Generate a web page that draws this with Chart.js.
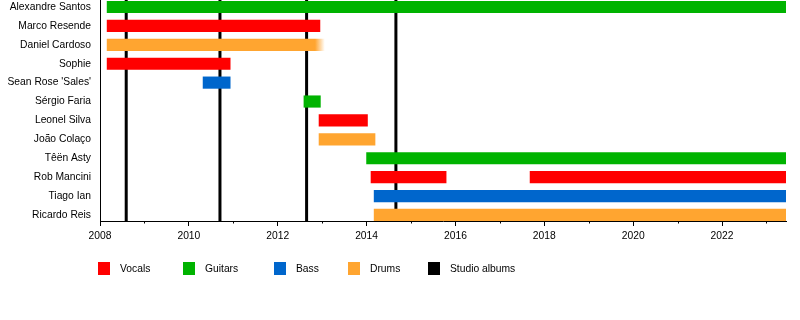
<!DOCTYPE html>
<html><head><meta charset="utf-8">
<script src="https://cdn.jsdelivr.net/npm/chart.js@4/dist/chart.umd.min.js"></script>
<style>
html,body{margin:0;padding:0;background:#fff;}
#wrap{position:relative;width:800px;height:320px;}
#c{position:absolute;left:0;top:0;}
#legend{position:absolute;left:0;top:262px;width:800px;height:14px;font:10.3px "Liberation Sans",Arial,sans-serif;color:#000}
.sw{position:absolute;top:0;width:12px;height:13px;}
.lb{position:absolute;top:0;line-height:13px;white-space:nowrap;}
</style></head><body>
<div id="wrap"><canvas id="c" width="800" height="320"></canvas><div id="legend"></div></div>
<script>
// ---- data ----
const members = ['Alexandre Santos','Marco Resende','Daniel Cardoso','Sophie',"Sean Rose 'Sales'",'Sérgio Faria','Leonel Silva','João Colaço','Têën Asty','Rob Mancini','Tiago Ian','Ricardo Reis'];
const timelineStart = 2008;
const timelineEnd = 2023.44;
const vocalsSpans = [['Marco Resende',2008.16,2012.95],['Sophie',2008.16,2010.93],['Leonel Silva',2012.93,2014.02],['Rob Mancini',2014.10,2015.79],['Rob Mancini',2017.68,timelineEnd]];
const guitarsSpans = [['Alexandre Santos',2008.16,timelineEnd],['Sérgio Faria',2012.59,2012.96],['Têën Asty',2014.00,timelineEnd]];
const bassSpans = [["Sean Rose 'Sales'",2010.32,2010.93],['Tiago Ian',2014.17,timelineEnd]];
const drumsSpans = [['Daniel Cardoso',2008.16,2013.06],['João Colaço',2012.93,2014.19],['Ricardo Reis',2014.17,timelineEnd]];
const studioAlbums = [2008.59,2010.70,2012.65,2014.66];
const majorTickYears = [2008,2010,2012,2014,2016,2018,2020,2022];
const legendLabels = ['Vocals','Guitars','Bass','Drums','Studio albums'];
const legendColors = ['#ff0000','#00b300','#0066cc','#ffa530','#000000'];
const fadedEndMember = 'Daniel Cardoso';

// ---- build ----
const yMin = -0.37, yMax = 11.32;
function toBars(spans){ return spans.map(s => ({x:[s[1],s[2]], y:members.indexOf(s[0])})); }
function barDataset(label, spans, color, fade){
  return {
    type:'bar', label, data:toBars(spans), order:0,
    barThickness:11.5, grouped:false, borderWidth:0,
    backgroundColor: fade ? (c) => {
      const xs = c.chart.scales && c.chart.scales.x;
      if (!c.raw || c.raw.y !== members.indexOf(fadedEndMember) || !xs) return color;
      const end = xs.getPixelForValue(c.raw.x[1]);
      const st = xs.getPixelForValue(c.raw.x[1]-0.22);
      if (!isFinite(end) || !isFinite(st)) return color;
      const g = c.chart.ctx.createLinearGradient(st,0,end,0);
      g.addColorStop(0,color); g.addColorStop(1,'rgba(255,165,48,0)');
      return g;
    } : color
  };
}
const datasets = [
  barDataset('Vocals', vocalsSpans, legendColors[0]),
  barDataset('Guitars', guitarsSpans, legendColors[1]),
  barDataset('Bass', bassSpans, legendColors[2]),
  barDataset('Drums', drumsSpans, legendColors[3], true),
  ...studioAlbums.map(a => ({
    type:'line', label:'Studio albums', data:[{x:a,y:yMin},{x:a,y:yMax}],
    borderColor:'#000', borderWidth:3, pointRadius:0, order:10, fill:false
  }))
];

const minorTicks = {
  id:'minorTicks',
  afterDraw(chart){
    const xs = chart.scales.x, ctx = chart.ctx, b = chart.chartArea.bottom;
    ctx.save(); ctx.strokeStyle='#000'; ctx.lineWidth=1;
    for (let y = Math.ceil(xs.min); y <= xs.max; y++) {
      if (majorTickYears.includes(y)) continue;
      const px = Math.round(xs.getPixelForValue(y)) + 0.5;
      ctx.beginPath(); ctx.moveTo(px,b); ctx.lineTo(px,b+2.5); ctx.stroke();
    }
    ctx.restore();
  }
};

Chart.defaults.font.family = '"Liberation Sans", Arial, sans-serif';
Chart.defaults.font.size = 10.3;
Chart.defaults.color = '#000';

new Chart(document.getElementById('c'), {
  type:'bar',
  data:{ datasets },
  plugins:[minorTicks],
  options:{
    responsive:false, animation:false, indexAxis:'y',
    layout:{ padding:{ left:0, right:14, top:0, bottom:69 } },
    plugins:{ legend:{display:false}, tooltip:{enabled:false} },
    scales:{
      x:{
        type:'linear', min:timelineStart, max:timelineEnd, offset:false, beginAtZero:false,
        grid:{ drawOnChartArea:false, drawTicks:true, tickLength:5, tickColor:'#000' },
        border:{ display:true, color:'#000', width:1 },
        ticks:{ autoSkip:false, maxRotation:0, padding:4, callback:(v)=>String(v) },
        afterBuildTicks:(s)=>{ s.ticks = majorTickYears.map(v=>({value:v})); },
        afterFit:(s)=>{ s.height = 30; s.paddingLeft = 0; s.paddingRight = 0; }
      },
      y:{
        type:'linear', reverse:true, min:yMin, max:yMax, offset:false,
        grid:{ drawOnChartArea:false, drawTicks:false },
        border:{ display:true, color:'#000', width:1 },
        ticks:{ autoSkip:false, padding:9, callback:(v)=>members[v] },
        afterBuildTicks:(s)=>{ s.ticks = members.map((_,i)=>({value:i})); },
        afterFit:(s)=>{ s.width = 100; s.paddingTop = 0; s.paddingBottom = 0; }
      }
    }
  }
});

// legend (HTML text)
const legendBoxX = [98,183,274,348,428];
const legendEl = document.getElementById('legend');
legendLabels.forEach((t,i)=>{
  const sw = document.createElement('div'); sw.className='sw';
  sw.style.left = legendBoxX[i]+'px'; sw.style.background = legendColors[i];
  const lb = document.createElement('div'); lb.className='lb';
  lb.style.left = (legendBoxX[i]+22)+'px'; lb.textContent = t;
  legendEl.appendChild(sw); legendEl.appendChild(lb);
});
</script>
</body></html>
